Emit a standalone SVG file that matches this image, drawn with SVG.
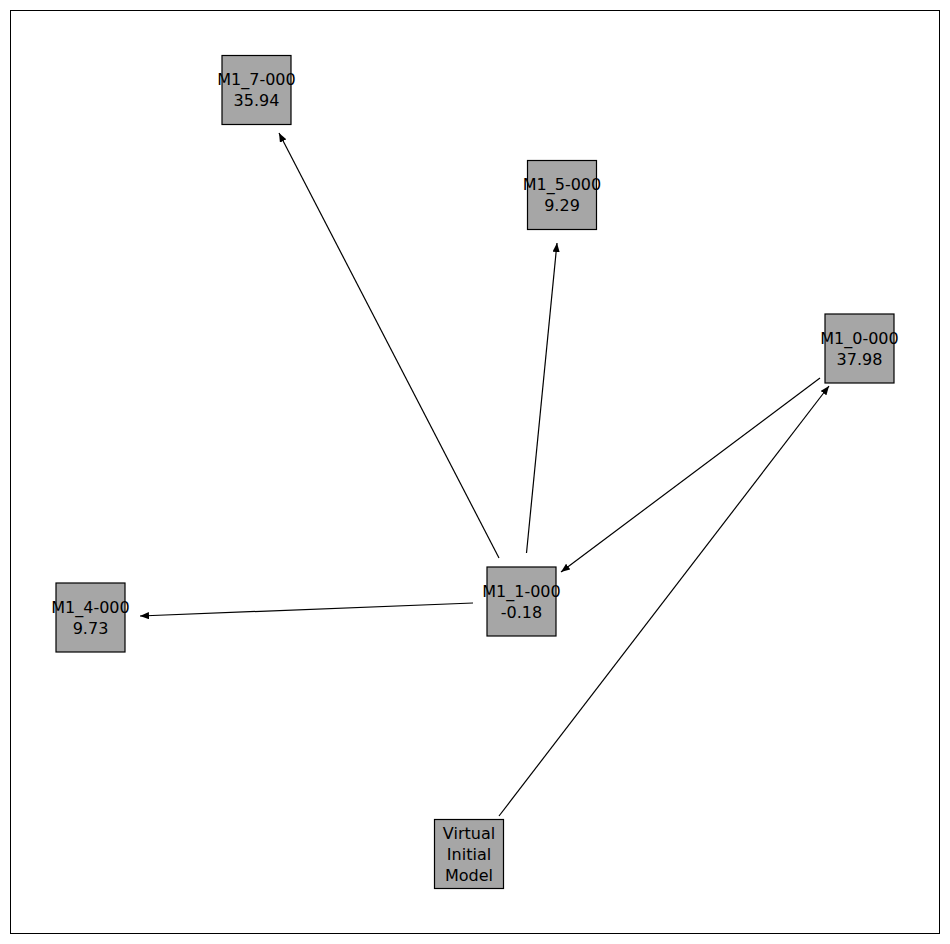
<svg xmlns="http://www.w3.org/2000/svg" width="950" height="944" viewBox="0 0 950 944">
<style>
.node rect{fill:#a6a6a6;stroke:#000;stroke-width:1.2}
.node text{font-family:"DejaVu Sans",sans-serif;font-size:16px;fill:#000;text-anchor:middle}
.edge{stroke:#000;stroke-width:1.2;fill:none;marker-end:url(#ah)}
</style>
<defs>
<marker id="ah" viewBox="0 0 10 8" refX="10" refY="4" markerWidth="9" markerHeight="7.2" markerUnits="userSpaceOnUse" orient="auto">
<path d="M0,0 L10,4 L0,8 z" fill="#000"/>
</marker>
</defs>
<rect x="10.5" y="10.5" width="929" height="923" fill="#fff" stroke="#000" stroke-width="1"/>
<g id="connectors">
<line class="edge" x1="499" y1="558" x2="279" y2="133"/>
<line class="edge" x1="526.5" y1="553" x2="557" y2="243"/>
<line class="edge" x1="820" y1="378" x2="561" y2="572"/>
<line class="edge" x1="473" y1="603" x2="140" y2="616"/>
<line class="edge" x1="499" y1="816" x2="829" y2="386"/>
</g>
<g id="M1_7-000" class="node"><rect x="222" y="55.5" width="69" height="69"/><text x="256.5" y="85">M1_7-000</text><text x="256.5" y="106">35.94</text></g>
<g id="M1_5-000" class="node"><rect x="527.5" y="160.5" width="69" height="69"/><text x="562" y="190">M1_5-000</text><text x="562" y="211">9.29</text></g>
<g id="M1_0-000" class="node"><rect x="825" y="314" width="69" height="69"/><text x="859.5" y="343.5">M1_0-000</text><text x="859.5" y="364.5">37.98</text></g>
<g id="M1_1-000" class="node"><rect x="487" y="567" width="69" height="69"/><text x="521.5" y="596.5">M1_1-000</text><text x="521.5" y="617.5">-0.18</text></g>
<g id="M1_4-000" class="node"><rect x="56" y="583" width="69" height="69"/><text x="90.5" y="612.5">M1_4-000</text><text x="90.5" y="633.5">9.73</text></g>
<g id="Virtual" class="node"><rect x="434.5" y="819.5" width="69" height="69"/><text x="469" y="838.5">Virtual</text><text x="469" y="859.5">Initial</text><text x="469" y="880.5">Model</text></g>
</svg>
